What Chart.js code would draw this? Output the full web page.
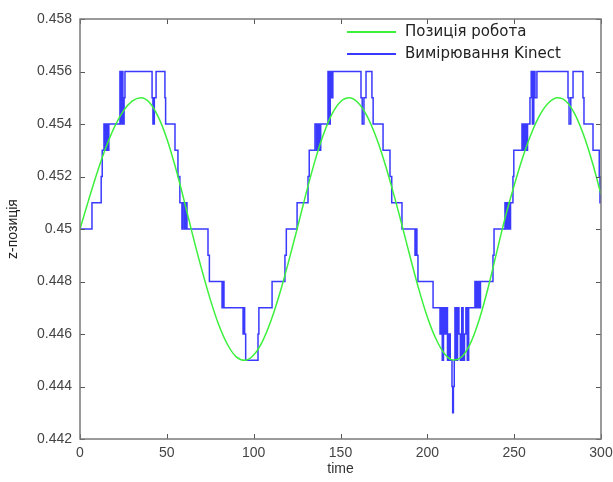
<!DOCTYPE html>
<html>
<head>
<meta charset="utf-8">
<title>z-позиція</title>
<script src="https://cdn.jsdelivr.net/npm/chart.js@4.4.1/dist/chart.umd.min.js"></script>
<style>
  html, body { margin: 0; padding: 0; background: #fff; }
  canvas { display: block; }
</style>
</head>
<body>
<canvas id="zChart" width="613" height="482"></canvas>
<script>
'use strict';

const xTicks = [0, 50, 100, 150, 200, 250, 300];
const yTicks = [0.442, 0.444, 0.446, 0.448, 0.45, 0.452, 0.454, 0.456, 0.458];
const yTickLabels = ['0.442', '0.444', '0.446', '0.448', '0.45', '0.452', '0.454', '0.456', '0.458'];
const seriesNames = ['Позиція робота', 'Вимірювання Kinect'];

// robot position, one sample every 5 time units
const robotTime = [
  0, 5, 10, 15, 20, 25, 30, 35, 40, 45,
  50, 55, 60, 65, 70, 75, 80, 85, 90, 95,
  100, 105, 110, 115, 120, 125, 130, 135, 140, 145,
  150, 155, 160, 165, 170, 175, 180, 185, 190, 195,
  200, 205, 210, 215, 220, 225, 230, 235, 240, 245,
  250, 255, 260, 265, 270, 275, 280, 285, 290, 295,
  300
];
const robotZ = [
  0.45000, 0.45111, 0.45217, 0.45312, 0.45391, 0.45450, 0.45487, 0.45500, 0.45482, 0.45428,
  0.45344, 0.45234, 0.45107, 0.44974, 0.44848, 0.44732, 0.44633, 0.44559, 0.44513, 0.44500,
  0.44520, 0.44571, 0.44651, 0.44754, 0.44873, 0.45000, 0.45131, 0.45253, 0.45357, 0.45437,
  0.45485, 0.45500, 0.45482, 0.45434, 0.45359, 0.45262, 0.45148, 0.45025, 0.44896, 0.44773,
  0.44665, 0.44581, 0.44524, 0.44501, 0.44514, 0.44567, 0.44657, 0.44776, 0.44913, 0.45048,
  0.45166, 0.45274, 0.45366, 0.45437, 0.45482, 0.45500, 0.45486, 0.45437, 0.45358, 0.45254,
  0.45132
];

// Kinect readings: [time the reading starts, z value]
const kinectSteps = [
  [0, 0.450], [6.9, 0.451], [12.2, 0.452], [12.8, 0.453], [13.8, 0.454], [14.6, 0.453],
  [15.4, 0.454], [16.0, 0.453], [16.6, 0.454], [23.0, 0.456], [23.5, 0.454], [24.2, 0.456],
  [24.7, 0.454], [25.4, 0.455], [25.9, 0.456], [41.5, 0.455], [42.0, 0.454], [42.8, 0.455],
  [43.8, 0.456], [48.9, 0.455], [49.3, 0.454], [54.7, 0.453], [56.4, 0.452], [57.5, 0.451],
  [58.7, 0.450], [59.3, 0.451], [60.2, 0.450], [60.8, 0.451], [61.6, 0.450], [73.7, 0.449],
  [74.5, 0.448], [81.8, 0.447], [82.3, 0.448], [82.9, 0.447], [93.9, 0.446], [94.3, 0.447],
  [94.8, 0.446], [95.4, 0.445], [102.5, 0.446], [103.0, 0.447], [110.6, 0.448], [118.0, 0.449],
  [118.8, 0.450], [125.0, 0.451], [131.3, 0.452], [132.0, 0.453], [135.3, 0.454], [136.2, 0.453],
  [137.0, 0.454], [137.8, 0.453], [138.6, 0.454], [142.8, 0.456], [143.4, 0.454], [144.1, 0.456],
  [144.8, 0.455], [145.6, 0.456], [161.8, 0.455], [162.5, 0.454], [163.5, 0.455], [164.7, 0.456],
  [168.1, 0.455], [168.8, 0.454], [174.5, 0.453], [178.5, 0.452], [179.5, 0.451], [185.4, 0.450],
  [192.9, 0.449], [193.5, 0.450], [194.0, 0.449], [194.6, 0.448], [203.3, 0.447], [207.3, 0.446],
  [207.9, 0.447], [208.6, 0.445], [209.3, 0.447], [210.0, 0.446], [210.8, 0.447], [211.6, 0.445],
  [212.4, 0.446], [213.2, 0.445], [214.2, 0.444], [214.6, 0.443], [215.0, 0.444], [215.5, 0.445],
  [215.9, 0.447], [216.6, 0.445], [217.4, 0.447], [218.2, 0.446], [219.0, 0.445], [219.8, 0.447],
  [220.6, 0.445], [221.4, 0.446], [222.2, 0.447], [223.0, 0.445], [223.8, 0.447], [227.4, 0.448],
  [228.2, 0.447], [229.0, 0.448], [229.8, 0.447], [230.6, 0.448], [237.8, 0.449], [238.4, 0.450],
  [244.7, 0.451], [245.5, 0.450], [246.3, 0.451], [247.1, 0.450], [247.9, 0.451], [249.3, 0.452],
  [249.8, 0.453], [254.5, 0.454], [255.3, 0.453], [256.1, 0.454], [256.9, 0.453], [257.7, 0.454],
  [259.1, 0.455], [259.8, 0.456], [260.5, 0.454], [261.3, 0.456], [262.0, 0.455], [263.1, 0.456],
  [281.0, 0.455], [281.6, 0.454], [282.6, 0.455], [283.9, 0.456], [289.6, 0.455], [290.2, 0.454],
  [295.4, 0.453], [299.0, 0.452], [299.4, 0.451], [300, 0.452]
];

const robotPoints = robotTime.map((t, i) => ({x: t, y: robotZ[i]}));
const kinectPoints = kinectSteps.map(s => ({x: s[0], y: s[1]}));

// box round the plot with inward tick marks on all four sides
const boxPlugin = {
  id: 'boxFrame',
  afterDatasetsDraw(chart) {
    const {ctx, chartArea: a, scales} = chart;
    ctx.save();
    ctx.strokeStyle = '#555';
    ctx.lineWidth = 1;
    ctx.beginPath();
    xTicks.forEach(v => {
      const px = Math.round(scales.x.getPixelForValue(v)) + 0.5;
      ctx.moveTo(px, a.bottom); ctx.lineTo(px, a.bottom - 5);
      ctx.moveTo(px, a.top); ctx.lineTo(px, a.top + 5);
    });
    yTicks.forEach(v => {
      const py = Math.round(scales.y.getPixelForValue(v)) + 0.5;
      ctx.moveTo(a.left, py); ctx.lineTo(a.left + 5, py);
      ctx.moveTo(a.right, py); ctx.lineTo(a.right - 5, py);
    });
    ctx.stroke();
    ctx.strokeStyle = '#7a7a7a';
    ctx.lineWidth = 1.5;
    ctx.strokeRect(a.left, a.top, a.right - a.left, a.bottom - a.top);
    ctx.restore();
  }
};

// legend without a box, top right inside the plot
const legendPlugin = {
  id: 'innerLegend',
  afterDraw(chart) {
    const ctx = chart.ctx;
    ctx.save();
    ctx.font = '15px "DejaVu Sans", sans-serif';
    ctx.textBaseline = 'middle';
    chart.data.datasets.forEach((ds, i) => {
      const y = 32 + i * 22;
      ctx.strokeStyle = ds.borderColor;
      ctx.lineWidth = 2;
      ctx.beginPath();
      ctx.moveTo(347, y);
      ctx.lineTo(396, y);
      ctx.stroke();
      ctx.fillStyle = '#222';
      ctx.fillText(ds.label, 405, y);
    });
    ctx.restore();
  }
};

const tickFont = {family: '"Liberation Sans", Arial, sans-serif', size: 14};

new Chart(document.getElementById('zChart'), {
  type: 'line',
  data: {
    datasets: [
      {
        label: seriesNames[0],
        data: robotPoints,
        borderColor: '#3cf03c',
        borderWidth: 1.5,
        pointRadius: 0,
        cubicInterpolationMode: 'monotone'
      },
      {
        label: seriesNames[1],
        data: kinectPoints,
        borderColor: '#3a3aff',
        borderWidth: 1.5,
        pointRadius: 0,
        stepped: 'before'
      }
    ]
  },
  options: {
    responsive: false,
    animation: false,
    events: [],
    layout: {padding: {top: 19, right: 12, left: 0, bottom: 0}},
    plugins: {
      legend: {display: false},
      tooltip: {enabled: false}
    },
    scales: {
      x: {
        type: 'linear',
        min: 0,
        max: 300,
        grid: {display: false, drawTicks: false},
        border: {display: false},
        afterBuildTicks: s => { s.ticks = xTicks.map(v => ({value: v})); },
        afterFit: s => { s.height = 43; s.paddingLeft = 0; s.paddingRight = 0; },
        ticks: {color: '#444', font: tickFont, padding: 6, maxRotation: 0},
        title: {display: true, text: 'time', color: '#333', font: {family: '"Liberation Sans", Arial, sans-serif', size: 14}, padding: {top: 0, bottom: 4}}
      },
      y: {
        type: 'linear',
        min: 0.442,
        max: 0.458,
        grid: {display: false, drawTicks: false},
        border: {display: false},
        afterBuildTicks: s => { s.ticks = yTicks.map(v => ({value: v})); },
        afterFit: s => { s.width = 80; s.paddingTop = 0; s.paddingBottom = 0; },
        ticks: {color: '#444', font: tickFont, padding: 8, callback: (v, i) => yTickLabels[i]},
        title: {display: true, text: 'z-позиція', color: '#222', font: {family: '"Liberation Sans", Arial, sans-serif', size: 14}, padding: {top: 5, bottom: 0}}
      }
    }
  },
  plugins: [boxPlugin, legendPlugin]
});
</script>
</body>
</html>
